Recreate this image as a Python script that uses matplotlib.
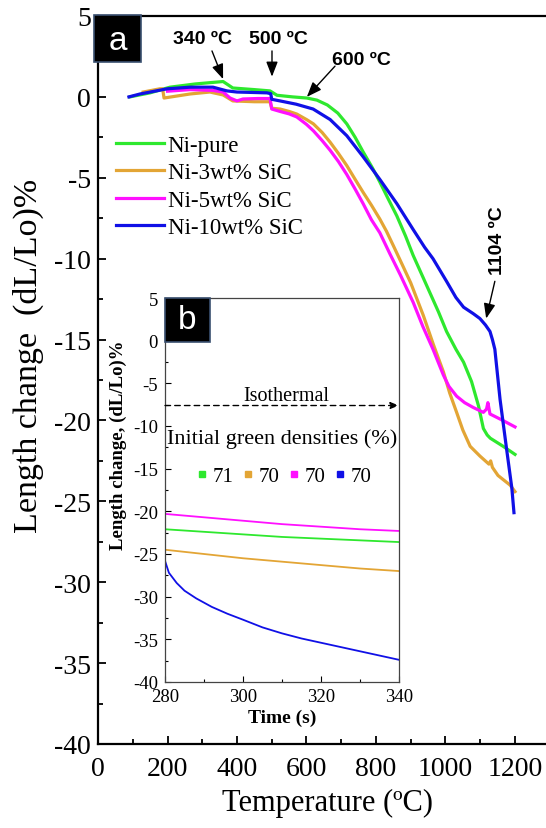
import matplotlib
matplotlib.use("Agg")
import matplotlib.pyplot as plt
from matplotlib.lines import Line2D
from matplotlib.patches import Rectangle
from matplotlib.ticker import MultipleLocator

plt.rcParams["axes.unicode_minus"] = False

# ---------------- data (main panel a) ----------------
series_names = ["Ni-pure", "Ni-3wt% SiC", "Ni-5wt% SiC", "Ni-10wt% SiC"]
series_colors = ["#2EE82E", "#E3A535", "#FF10FF", "#1010E6"]

green_T = [92, 150, 207, 280, 360, 388, 450, 495, 515, 560, 601, 630, 660, 690, 716, 740,
           763, 790, 811, 835, 860, 885, 907, 930, 955, 980, 1003, 1030, 1052, 1075, 1095,
           1109, 1120, 1129, 1166, 1200]
green_L = [0, 0.25, 0.6, 0.8, 0.95, 0.55, 0.45, 0.37, 0.1, 0.0, -0.07, -0.2, -0.5, -1.0, -1.67, -2.5,
           -3.4, -4.4, -5.26, -6.3, -7.36, -8.6, -9.8, -10.9, -12.1, -13.3, -14.5, -15.6, -16.4, -17.6, -19.1,
           -20.5, -20.9, -21.1, -21.6, -22.1]

orange_T = [130, 178, 186, 190, 265, 322, 360, 388, 450, 495, 500, 524, 550, 572, 600, 620, 645,
            668, 692, 716, 740, 763, 787, 811, 830, 850, 874, 900, 936, 965, 994, 1012, 1032,
            1050, 1071, 1099, 1125, 1130, 1135, 1151, 1186, 1200]
orange_L = [0.3, 0.5, 0.5, -0.07, 0.18, 0.3, 0.12, -0.25, -0.3, -0.3, -0.7, -0.75, -0.9, -1.06, -1.4, -1.67, -2.2,
            -2.8, -3.5, -4.25, -5.1, -5.9, -6.7, -7.55, -8.3, -9.2, -10.3, -11.5, -13.5, -15.3, -17.0, -18.3, -19.5,
            -20.6, -21.6, -22.2, -22.7, -22.5, -22.9, -23.4, -24.0, -24.4]

magenta_T = [200, 265, 331, 360, 380, 400, 417, 460, 495, 500, 524, 550, 572, 600, 620, 645,
             668, 692, 716, 740, 763, 787, 811, 840, 870, 907, 935, 964, 994, 1010, 1032, 1055,
             1080, 1109, 1118, 1122, 1128, 1165, 1200]
magenta_L = [0.35, 0.45, 0.4, 0.3, -0.07, -0.25, -0.13, -0.1, -0.1, -0.75, -0.9, -1.05, -1.24, -1.7, -2.1, -2.7,
             -3.3, -4.0, -4.8, -5.7, -6.6, -7.6, -8.4, -9.7, -11.0, -12.7, -14.2, -15.6, -17.2, -17.9, -18.5, -18.9,
             -19.2, -19.5, -19.3, -18.9, -19.6, -20.0, -20.4]

blue_T = [89, 121, 199, 265, 331, 371, 400, 486, 497, 500, 524, 570, 619, 668, 716, 763, 811,
          860, 907, 940, 964, 1003, 1030, 1052, 1080, 1099, 1115, 1128, 1135, 1142, 1157, 1176,
          1191, 1197]
blue_L = [0, 0.18, 0.5, 0.6, 0.6, 0.37, 0.3, 0.25, 0.2, -0.15, -0.25, -0.45, -0.75, -1.4, -2.4, -3.7, -5.1,
          -6.6, -8.2, -9.3, -10.0, -11.4, -12.4, -13.0, -13.4, -13.7, -14.1, -14.5, -15.0, -15.6, -18.7, -21.8,
          -24.2, -25.7]

# ---------------- data (inset panel b) ----------------
inset_t = [280, 290, 300, 310, 320, 330, 340]
inset_magenta = [-20.3, -20.7, -21.1, -21.5, -21.8, -22.1, -22.3]
inset_green = [-22.1, -22.4, -22.7, -23.0, -23.2, -23.4, -23.6]
inset_orange = [-24.5, -25.0, -25.5, -25.9, -26.3, -26.7, -27.0]
inset_blue_t = [280, 281, 283, 285, 288, 292, 296, 300, 305, 310, 315, 320, 325, 330, 335, 340]
inset_blue = [-25.8, -27.2, -28.4, -29.3, -30.2, -31.2, -32.0, -32.7, -33.6, -34.3, -34.9,
              -35.4, -35.9, -36.4, -36.9, -37.4]
density_labels = ["71", "70", "70", "70"]
isothermal_level = -7.6

main_xticks = [0, 200, 400, 600, 800, 1000, 1200]
main_yticks = [5, 0, -5, -10, -15, -20, -25, -30, -35, -40]
inset_xticks = [280, 300, 320, 340]
inset_yticks = [5, 0, -5, -10, -15, -20, -25, -30, -35, -40]

annotations = [  # text, text pos, arrow tail, arrow head
    ("340 ºC", (302, 3.58), (328, 2.84), (360, 1.1)),
    ("500 ºC", (519, 3.58), (500.7, 2.84), (500.7, 1.25)),
    ("600 ºC", (758, 2.34), (682, 1.9), (601, 0.0)),
]

# ---------------- figure ----------------
serif = "Liberation Serif"
sans = "Liberation Sans"
fig = plt.figure(figsize=(5.46, 8.29), dpi=100)
ax = fig.add_axes([98 / 546, 1 - 745 / 829, 448 / 546, 728 / 829])

for T, L, c, n in zip([green_T, orange_T, magenta_T, blue_T],
                      [green_L, orange_L, magenta_L, blue_L], series_colors, series_names):
    ax.plot(T, L, color=c, lw=2.3, label=n, solid_joinstyle="round")

ax.set_xlim(0, 448 / 0.3475)
ax.set_ylim(-40, 5)
ax.set_xticks(main_xticks)
ax.set_yticks(main_yticks)
ax.xaxis.set_minor_locator(MultipleLocator(100))
ax.yaxis.set_minor_locator(MultipleLocator(2.5))
ax.tick_params(which="both", direction="in", width=1.3, labelsize=20)
ax.tick_params(which="major", length=6)
ax.tick_params(which="minor", length=3.5)
ax.tick_params(axis="x", pad=9)
ax.tick_params(axis="y", pad=5)
for lab in ax.get_xticklabels() + ax.get_yticklabels():
    lab.set_fontfamily(serif)
ax.spines["right"].set_visible(False)
for s in ["left", "top", "bottom"]:
    ax.spines[s].set_linewidth(1.6)
ax.set_xlabel("Temperature (ºC)", fontsize=22, fontfamily=serif)
ax.xaxis.set_label_coords(229 / 448, -44 / 728)
ax.set_ylabel("Length change  (dL/Lo)%", fontsize=24.5, fontfamily=serif)
ax.yaxis.set_label_coords(-54 / 448, (745 - 356) / 728)

leg = ax.legend(loc="upper left", bbox_to_anchor=(0.02, 0.849), frameon=False,
                prop={"family": serif, "size": 16.5}, handlelength=2.1, handletextpad=0.15,
                labelspacing=0.27, borderaxespad=0)

for txt, tpos, tail, head in annotations:
    ax.annotate("", xy=head, xytext=tail,
                arrowprops=dict(arrowstyle="-|>,head_length=0.9,head_width=0.35", color="black",
                                lw=1.0, shrinkA=0, shrinkB=0))
    ax.text(tpos[0], tpos[1], txt, fontsize=14, fontweight="bold", fontfamily=sans,
            ha="center", va="center")
ax.annotate("", xy=(1117, -13.7), xytext=(1142, -11.4),
            arrowprops=dict(arrowstyle="-|>,head_length=0.9,head_width=0.35", color="black",
                            lw=1.0, shrinkA=0, shrinkB=0))
ax.text(1150, -8.8, "1104 ºC", fontsize=14, fontweight="bold", fontfamily=sans,
        rotation=90, ha="center", va="center")

# panel label a
fig.patches.append(Rectangle((94 / 546, 1 - 63 / 829), 47 / 546, 47 / 829, transform=fig.transFigure,
                             facecolor="black", edgecolor="#3A5070", lw=1.2, zorder=5))
fig.text(117.5 / 546, 1 - 41 / 829, "a", color="white", fontsize=24, fontfamily=sans,
         ha="center", va="center", zorder=6)

# ---------------- inset ----------------
ins = fig.add_axes([165 / 546, 1 - 683 / 829, 234 / 546, 384 / 829])
ins.plot(inset_t, inset_magenta, color=series_colors[2], lw=1.3)
ins.plot(inset_t, inset_green, color=series_colors[0], lw=1.3)
ins.plot(inset_t, inset_orange, color=series_colors[1], lw=1.3)
ins.plot(inset_blue_t, inset_blue, color=series_colors[3], lw=1.3)
ins.set_xlim(280, 340)
ins.set_ylim(-40, 5)
ins.set_xticks(inset_xticks)
ins.set_yticks(inset_yticks)
ins.xaxis.set_minor_locator(MultipleLocator(10))
ins.yaxis.set_minor_locator(MultipleLocator(2.5))
ins.tick_params(which="both", direction="in", width=0.8, labelsize=13.5)
ins.tick_params(axis="x", pad=4)
ins.tick_params(axis="y", pad=5)
ins.tick_params(which="major", length=4)
ins.tick_params(which="minor", length=2.5)
for lab in ins.get_xticklabels() + ins.get_yticklabels():
    lab.set_fontfamily(serif)
for s in ins.spines.values():
    s.set_linewidth(0.9)
    s.set_color("#444444")
ins.set_xlabel("Time (s)", fontsize=14, fontweight="bold", fontfamily=serif)
ins.xaxis.set_label_coords(0.5, -27 / 384)
ins.set_ylabel("Length change, (dL/Lo)%", fontsize=13.5, fontweight="bold", fontfamily=serif)
ins.yaxis.set_label_coords(-38 / 234, (683 - 445) / 384)

ins.annotate("", xy=(340, isothermal_level), xytext=(280, isothermal_level),
             arrowprops=dict(arrowstyle="-|>,head_length=0.5,head_width=0.2", color="black",
                             lw=1.0, ls=(0, (4, 3)), shrinkA=0, shrinkB=0))
ins.text(0.52, 0.745, "Isothermal", transform=ins.transAxes, fontsize=14.5, fontfamily=serif,
         ha="center", va="center")
ins.text(0.5, 0.635, "Initial green densities (%)", transform=ins.transAxes, fontsize=16,
         fontfamily=serif, ha="center", va="center")
handles = [Line2D([], [], ls="", marker="s", markersize=4, color=c) for c in series_colors]
ileg = ins.legend(handles, density_labels, ncol=4,
                  loc="center", bbox_to_anchor=(0.51, 0.536), frameon=False,
                  prop={"family": serif, "size": 15},
                  handlelength=0.5, handletextpad=0.25, columnspacing=0.45, borderaxespad=0,
                  borderpad=0)

fig.patches.append(Rectangle((165 / 546, 1 - 343 / 829), 45 / 546, 44 / 829, transform=fig.transFigure,
                             facecolor="black", edgecolor="#3A5070", lw=1.2, zorder=5))
fig.text(187.5 / 546, 1 - 321 / 829, "b", color="white", fontsize=24, fontfamily=sans,
         ha="center", va="center", zorder=6)

fig.savefig("out.png", dpi=100)
